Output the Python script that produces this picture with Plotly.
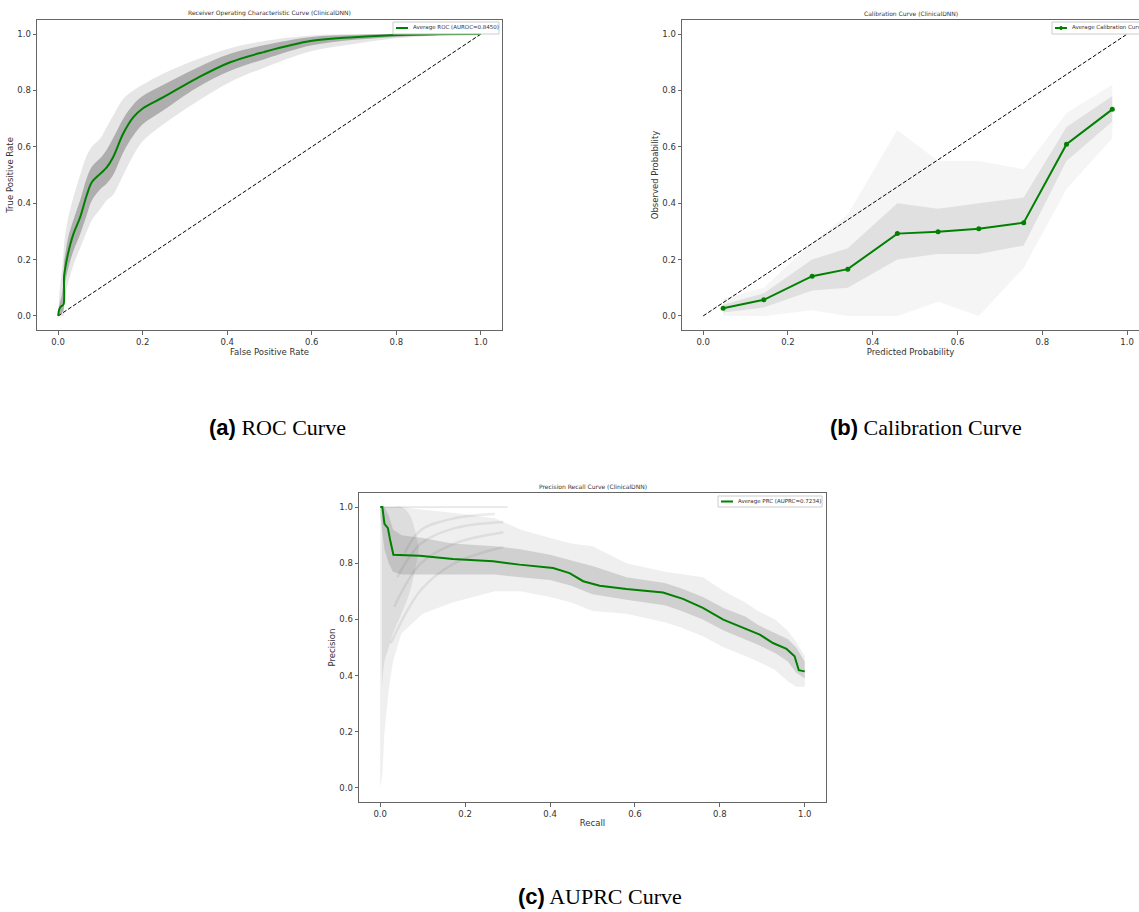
import plotly.graph_objects as go

# ---------------- data ----------------
tick_vals = [0.0, 0.2, 0.4, 0.6, 0.8, 1.0]
tick_text = ["0.0", "0.2", "0.4", "0.6", "0.8", "1.0"]
diag = [0.0, 1.0]

# ROC (mean curve and bootstrap band)
roc_fpr = [0, 0.003, 0.008, 0.0126, 0.014, 0.018, 0.024, 0.036, 0.052, 0.068, 0.08, 0.1, 0.115,
           0.13, 0.154, 0.178, 0.2, 0.249, 0.328, 0.407, 0.486, 0.6, 0.7, 0.8, 0.9, 1.0]
roc_tpr = [0, 0.025, 0.035, 0.04, 0.14, 0.18, 0.225, 0.29, 0.35, 0.43, 0.475, 0.505, 0.527,
           0.563, 0.647, 0.705, 0.736, 0.776, 0.843, 0.9, 0.936, 0.976, 0.989, 0.997, 0.999, 1.0]
roc_outer_lo = [0, 0.0, 0.0, 0.0, 0.05, 0.08, 0.12, 0.18, 0.24, 0.3, 0.34, 0.38, 0.41,
                0.43, 0.5, 0.57, 0.62, 0.68, 0.76, 0.83, 0.88, 0.94, 0.965, 0.985, 0.995, 1.0]
roc_outer_hi = [0, 0.08, 0.15, 0.22, 0.25, 0.3, 0.35, 0.42, 0.5, 0.57, 0.6, 0.63, 0.67,
                0.71, 0.77, 0.8, 0.82, 0.86, 0.91, 0.95, 0.975, 0.995, 1.0, 1.0, 1.0, 1.0]
roc_inner_lo = [0, 0.005, 0.01, 0.02, 0.09, 0.13, 0.17, 0.23, 0.29, 0.36, 0.41, 0.45, 0.47,
                0.5, 0.58, 0.64, 0.68, 0.73, 0.81, 0.87, 0.91, 0.96, 0.98, 0.99, 0.997, 1.0]
roc_inner_hi = [0, 0.04, 0.07, 0.12, 0.19, 0.23, 0.28, 0.34, 0.41, 0.49, 0.53, 0.56, 0.59,
                0.63, 0.7, 0.75, 0.78, 0.82, 0.88, 0.93, 0.96, 0.99, 0.997, 1.0, 1.0, 1.0]

# Calibration
cal_x = [0.047, 0.143, 0.257, 0.341, 0.458, 0.554, 0.65, 0.756, 0.857, 0.965]
cal_y = [0.027, 0.057, 0.141, 0.166, 0.292, 0.299, 0.309, 0.331, 0.609, 0.733]
cal_outer_lo = [0.0, 0.0, 0.02, 0.0, 0.0, 0.05, 0.0, 0.17, 0.45, 0.63]
cal_outer_hi = [0.06, 0.1, 0.26, 0.36, 0.66, 0.55, 0.55, 0.52, 0.72, 0.82]
cal_inner_lo = [0.012, 0.03, 0.09, 0.1, 0.2, 0.22, 0.22, 0.25, 0.55, 0.69]
cal_inner_hi = [0.04, 0.08, 0.2, 0.24, 0.4, 0.38, 0.4, 0.42, 0.67, 0.78]

# Precision-Recall
pr_rec = [0, 0.005, 0.01, 0.018, 0.024, 0.031, 0.093, 0.171, 0.266, 0.328, 0.407, 0.446, 0.478,
          0.517, 0.58, 0.666, 0.713, 0.76, 0.808, 0.855, 0.894, 0.925, 0.957, 0.976, 0.986, 1.0]
pr_prec = [1.0, 1.0, 0.94, 0.925, 0.878, 0.83, 0.827, 0.815, 0.807, 0.795, 0.783, 0.765, 0.736,
           0.72, 0.708, 0.696, 0.673, 0.641, 0.599, 0.569, 0.546, 0.516, 0.495, 0.469, 0.419, 0.415]
pr_band_rec = [0, 0.005, 0.01, 0.02, 0.03, 0.05, 0.1, 0.17, 0.27, 0.33, 0.4, 0.45, 0.5, 0.58,
               0.67, 0.71, 0.76, 0.81, 0.86, 0.89, 0.93, 0.96, 0.98, 1.0]
pr_outer_lo = [0.0, 0.05, 0.2, 0.35, 0.45, 0.55, 0.62, 0.66, 0.7, 0.7, 0.68, 0.66, 0.63, 0.62,
               0.59, 0.57, 0.54, 0.5, 0.47, 0.45, 0.42, 0.38, 0.36, 0.36]
pr_outer_hi = [1.0, 1.0, 1.0, 1.0, 1.0, 1.0, 0.99, 0.98, 0.96, 0.92, 0.89, 0.87, 0.86, 0.8,
               0.77, 0.76, 0.75, 0.7, 0.66, 0.63, 0.6, 0.56, 0.52, 0.47]
pr_inner_lo = [0.97, 0.9, 0.85, 0.8, 0.77, 0.76, 0.76, 0.76, 0.76, 0.75, 0.74, 0.72, 0.69, 0.67,
               0.65, 0.63, 0.6, 0.56, 0.53, 0.51, 0.48, 0.45, 0.41, 0.39]
pr_inner_hi = [1.0, 1.0, 1.0, 0.97, 0.92, 0.9, 0.89, 0.87, 0.86, 0.85, 0.83, 0.81, 0.79, 0.75,
               0.73, 0.71, 0.68, 0.64, 0.61, 0.58, 0.55, 0.53, 0.5, 0.45]
pr_fan_rec = [0.004, 0.01, 0.02, 0.03, 0.05, 0.07, 0.09]
pr_fan_lo = [0.35, 0.45, 0.5, 0.55, 0.62, 0.7, 0.84]
pr_fan_hi = [1.0, 1.0, 1.0, 1.0, 1.0, 0.97, 0.86]
pr_top_rec = [0.0, 0.3]
pr_top_prec = [1.0, 1.0]
# a few of the distinct low-recall arcs
pr_arc_rec = [[0.057, 0.096, 0.175, 0.27],
              [0.04, 0.096, 0.175, 0.29],
              [0.033, 0.096, 0.175, 0.29],
              [0.025, 0.096, 0.175, 0.29]]
pr_arc_prec = [[0.836, 0.918, 0.96, 0.975],
               [0.75, 0.87, 0.925, 0.947],
               [0.645, 0.8, 0.87, 0.91],
               [0.515, 0.705, 0.8, 0.858]]

GREEN = "#008000"
FONT = "DejaVu Sans"
W, H = 1139, 912

fig = go.Figure()


def band(xs, lo, hi, color, xa, ya, shape="linear"):
    fig.add_trace(go.Scatter(x=xs, y=lo, mode="lines", line=dict(width=0, color=color, shape=shape),
                             showlegend=False, hoverinfo="skip", xaxis=xa, yaxis=ya))
    fig.add_trace(go.Scatter(x=xs, y=hi, mode="lines", line=dict(width=0, color=color, shape=shape),
                             fill="tonexty", fillcolor=color, showlegend=False,
                             hoverinfo="skip", xaxis=xa, yaxis=ya))


# ROC
band(roc_fpr, roc_outer_lo, roc_outer_hi, "rgba(90,90,90,0.15)", "x", "y", "spline")
band(roc_fpr, roc_inner_lo, roc_inner_hi, "rgba(90,90,90,0.40)", "x", "y", "spline")
fig.add_trace(go.Scatter(x=diag, y=diag, mode="lines", line=dict(color="black", width=1, dash="4px,2px"),
                         showlegend=False, xaxis="x", yaxis="y"))
fig.add_trace(go.Scatter(x=roc_fpr, y=roc_tpr, mode="lines", line=dict(color=GREEN, width=2, shape="spline"),
                         showlegend=False, xaxis="x", yaxis="y"))

# Calibration
band(cal_x, cal_outer_lo, cal_outer_hi, "rgba(120,120,120,0.07)", "x2", "y2")
band(cal_x, cal_inner_lo, cal_inner_hi, "rgba(120,120,120,0.16)", "x2", "y2")
fig.add_trace(go.Scatter(x=diag, y=diag, mode="lines", line=dict(color="black", width=1, dash="4px,2px"),
                         showlegend=False, xaxis="x2", yaxis="y2"))
fig.add_trace(go.Scatter(x=cal_x, y=cal_y, mode="lines+markers", line=dict(color=GREEN, width=2),
                         marker=dict(size=5, color=GREEN), showlegend=False, xaxis="x2", yaxis="y2"))

# PRC
band(pr_band_rec, pr_outer_lo, pr_outer_hi, "rgba(100,100,100,0.10)", "x3", "y3")
band(pr_band_rec, pr_inner_lo, pr_inner_hi, "rgba(100,100,100,0.22)", "x3", "y3")
band(pr_fan_rec, pr_fan_lo, pr_fan_hi, "rgba(100,100,100,0.13)", "x3", "y3", "spline")
for ax_, ay_ in zip(pr_arc_rec, pr_arc_prec):
    fig.add_trace(go.Scatter(x=ax_, y=ay_, mode="lines",
                             line=dict(color="rgba(110,110,110,0.13)", width=2.5, shape="spline"),
                             showlegend=False, hoverinfo="skip", xaxis="x3", yaxis="y3"))
fig.add_trace(go.Scatter(x=pr_top_rec, y=pr_top_prec, mode="lines",
                         line=dict(color="rgba(120,120,120,0.3)", width=1),
                         showlegend=False, hoverinfo="skip", xaxis="x3", yaxis="y3"))
fig.add_trace(go.Scatter(x=pr_rec, y=pr_prec, mode="lines", line=dict(color=GREEN, width=2),
                         showlegend=False, xaxis="x3", yaxis="y3"))


def axis(domain, anchor, rng, title):
    return dict(domain=domain, anchor=anchor, range=rng, tickvals=tick_vals, ticktext=tick_text,
                showline=True, mirror=True, linecolor="#666", linewidth=1, ticks="outside",
                ticklen=3.5, tickcolor="#666", tickfont=dict(size=8.5, color="#333", family=FONT),
                showgrid=False, zeroline=False, automargin=False,
                title=dict(text=title, font=dict(size=8.5, color="#333", family=FONT), standoff=2))


fig.update_layout(
    width=W, height=H, paper_bgcolor="white", plot_bgcolor="white", showlegend=False,
    margin=dict(l=0, r=0, t=0, b=0, autoexpand=False),
    xaxis=axis([37 / W, 502 / W], "y", [-0.05, 1.05], "False Positive Rate"),
    yaxis=axis([1 - 330 / H, 1 - 20 / H], "x", [-0.05, 1.05], "True Positive Rate"),
    xaxis2=axis([682 / W, 1.0], "y2", [-0.05, 1.028], "Predicted Probability"),
    yaxis2=axis([1 - 330 / H, 1 - 20 / H], "x2", [-0.05, 1.05], "Observed Probability"),
    xaxis3=axis([359 / W, 826 / W], "y3", [-0.05, 1.05], "Recall"),
    yaxis3=axis([1 - 802 / H, 1 - 493 / H], "x3", [-0.05, 1.05], "Precision"),
)

# legends (drawn as small boxes, matplotlib style)
legends = [("Average ROC (AUROC=0.8450)", 393, 499, 22, 34, False),
           ("Average Calibration Curve", 1052, 1160, 22, 34, True),
           ("Average PRC (AUPRC=0.7234)", 718, 822, 496, 507, False)]
for text, x0, x1, y0, y1, mk in legends:
    fig.add_shape(type="rect", xref="paper", yref="paper", x0=x0 / W, x1=x1 / W,
                  y0=1 - y1 / H, y1=1 - y0 / H, line=dict(color="#cccccc", width=1),
                  fillcolor="rgba(255,255,255,0.85)", layer="above")
    ym = 1 - (y0 + y1) / 2 / H
    fig.add_shape(type="line", xref="paper", yref="paper", x0=(x0 + 3) / W, x1=(x0 + 15) / W,
                  y0=ym, y1=ym, line=dict(color=GREEN, width=2), layer="above")
    if mk:
        fig.add_shape(type="circle", xref="paper", yref="paper", x0=(x0 + 7.5) / W, x1=(x0 + 10.5) / W,
                      y0=ym - 1.5 / H, y1=ym + 1.5 / H, line=dict(color=GREEN, width=1),
                      fillcolor=GREEN, layer="above")
    fig.add_annotation(text=text, xref="paper", yref="paper", x=(x0 + 18) / W, y=ym,
                       xanchor="left", yanchor="middle", showarrow=False,
                       font=dict(size=5.5, family=FONT, color="#333"))

titles = [("Receiver Operating Characteristic Curve (ClinicalDNN)", "x", "y"),
          ("Calibration Curve (ClinicalDNN)", "x2", "y2"),
          ("Precision Recall Curve (ClinicalDNN)", "x3", "y3")]
for text, xa, ya in titles:
    fig.add_annotation(text=text, xref=xa + " domain", yref=ya + " domain", x=0.5, y=1.0,
                       xanchor="center", yanchor="bottom", yshift=1, showarrow=False,
                       font=dict(size=6, family=FONT, color="#333"))

captions = [("(a)", "ROC Curve", 277 / W, 1 - 427 / H),
            ("(b)", "Calibration Curve", 926 / W, 1 - 427 / H),
            ("(c)", "AUPRC Curve", 600 / W, 1 - 896 / H)]
for lab, text, cx, cy in captions:
    fig.add_annotation(text="<span style='font-family:Liberation Sans'><b>" + lab + "</b></span> " + text,
                       xref="paper", yref="paper", x=cx, y=cy, xanchor="center", yanchor="middle",
                       showarrow=False, font=dict(size=22, family="Liberation Serif", color="black"))

fig.write_html("out.html", config={"displayModeBar": False},
               post_script="document.body.style.margin='0px';")
